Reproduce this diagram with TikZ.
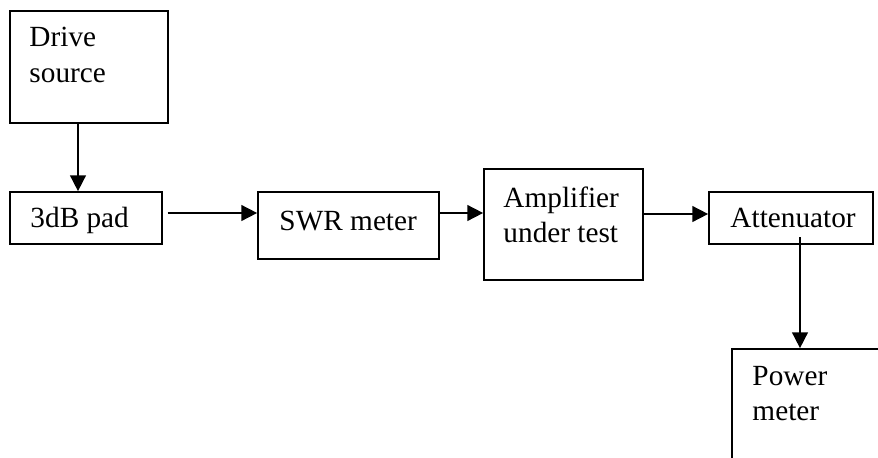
\documentclass[tikz,border=0pt]{standalone}
\usepackage{fontspec}
\setmainfont{Liberation Serif}
\usetikzlibrary{fit,arrows.meta}
\begin{document}
\begin{tikzpicture}[x=0.41pt,y=-0.41pt,
  box/.style={draw=black,line width=0.7pt,inner sep=0pt,fill=none},
  lbl/.style={anchor=base west,inner sep=0pt,font=\fontsize{12}{14.3}\selectfont},
  arr/.style={line width=0.7pt,-{Triangle[length=6.5pt,width=6.5pt]}}]
\useasboundingbox (0,0) rectangle (878,458);
% boxes
\node[box,fit={(10,11) (168,123)}] (drive) {};
\node[box,fit={(10,192) (162,244)}] (pad) {};
\node[box,fit={(258,192) (439,259)}] (swr) {};
\node[box,fit={(484,169) (643,280)}] (amp) {};
\node[box,fit={(709,192) (873,244)}] (att) {};
\begin{scope}
\clip (0,0) rectangle (878,458);
\node[box,fit={(732,349) (910,490)}] (pwr) {};
\end{scope}
% texts
\node[lbl] (t1) at (29,47) {Drive};
\node[lbl] (t2) at (29,82) {source};
\node[lbl] (t3) at (30,227) {3dB pad};
\node[lbl] (t4) at (279,230) {SWR meter};
\node[lbl] (t5) at (503,207) {Amplifier};
\node[lbl] (t6) at (503,242) {under test};
\node[lbl] (t7) at (730,227) {Attenuator};
\node[lbl] (t8) at (752,385) {Power};
\node[lbl] (t9) at (752,420) {meter};
% guide coordinates
\coordinate (cx1) at (78,0);
\coordinate (cy1) at (0,213);
\coordinate (cy2) at (0,214);
\coordinate (cx2) at (800,0);
\coordinate (cs) at (800,237);
% connectors
\draw[arr] (drive.south -| cx1) -- (pad.north -| cx1);
\draw[arr] ([xshift=2pt]pad.east |- cy1) -- (swr.west |- cy1);
\draw[arr] (swr.east |- cy1) -- (amp.west |- cy1);
\draw[arr] (amp.east |- cy2) -- (att.west |- cy2);
\draw[arr] (cs) -- (pwr.north -| cx2);
\end{tikzpicture}
\end{document}
